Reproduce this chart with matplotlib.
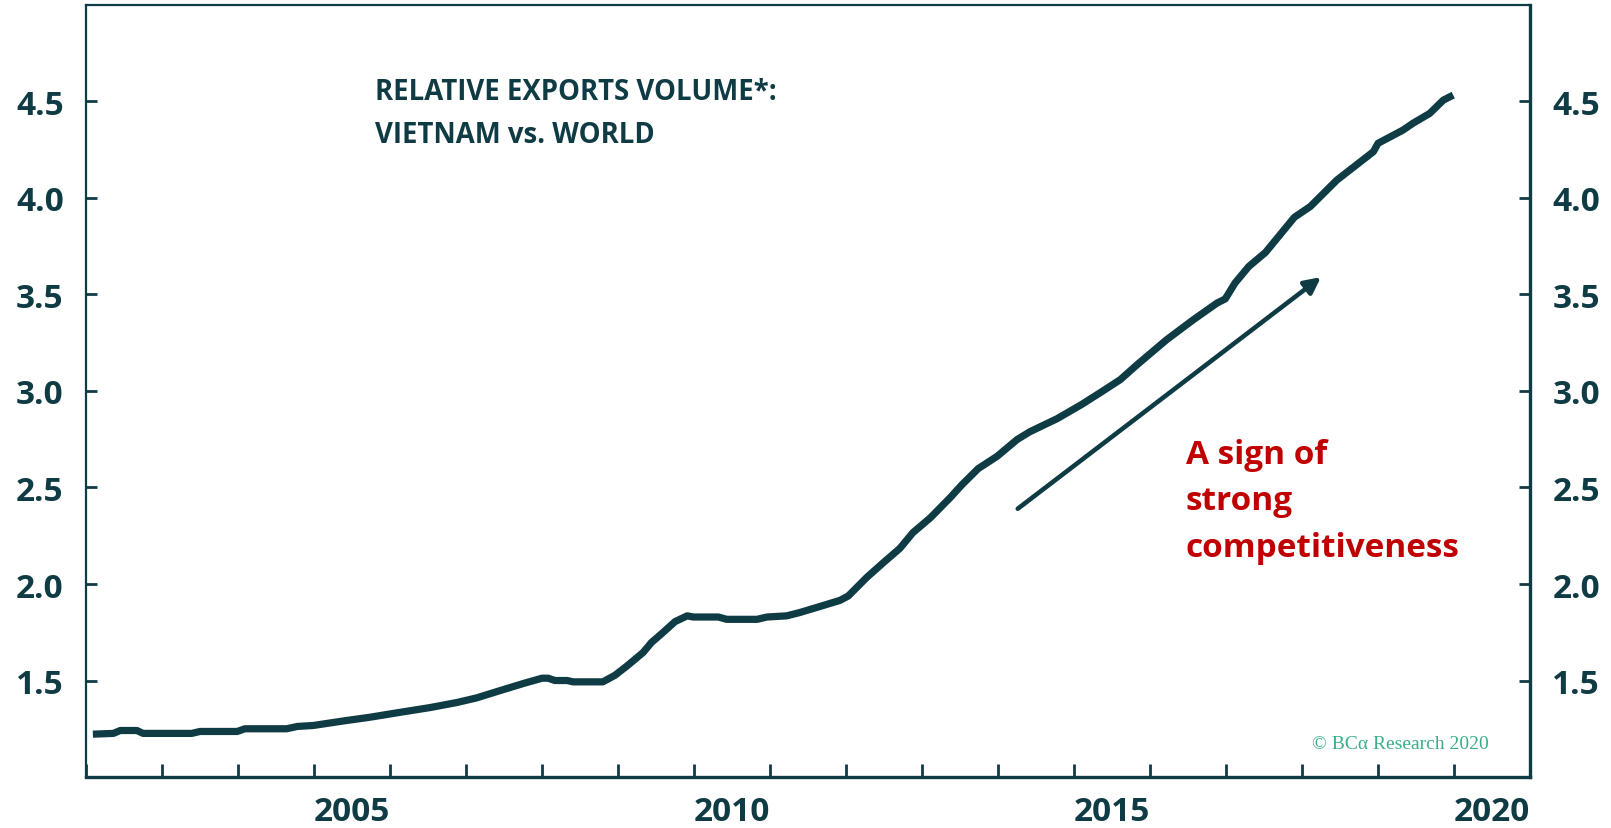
import matplotlib
matplotlib.use("Agg")
import matplotlib.pyplot as plt

# relative exports volume, Vietnam vs world
years = [2002.09, 2002.36, 2002.45, 2002.67, 2002.75, 2003.39, 2003.50, 2003.99,
         2004.09, 2004.64, 2004.78, 2004.99, 2005.43, 2005.56, 2005.74, 2006.13,
         2006.53, 2006.88, 2007.14, 2007.45, 2007.75, 2008.00, 2008.08, 2008.17,
         2008.33, 2008.41, 2008.80, 2008.96, 2009.12, 2009.33, 2009.44, 2009.59,
         2009.75, 2009.91, 2009.99, 2010.32, 2010.43, 2010.83, 2010.96, 2011.22,
         2011.39, 2011.61, 2011.92, 2012.03, 2012.27, 2012.49, 2012.71, 2012.88,
         2013.11, 2013.37, 2013.53, 2013.74, 2013.99, 2014.25, 2014.42, 2014.78,
         2015.10, 2015.36, 2015.61, 2015.83, 2016.22, 2016.57, 2016.88, 2016.99,
         2017.12, 2017.30, 2017.52, 2017.71, 2017.90, 2018.11, 2018.46, 2018.80,
         2018.94, 2019.00, 2019.33, 2019.46, 2019.68, 2019.86, 2019.99]
values = [1.222, 1.226, 1.241, 1.241, 1.226, 1.226, 1.236, 1.236,
          1.250, 1.250, 1.262, 1.267, 1.293, 1.300, 1.310, 1.335,
          1.360, 1.386, 1.410, 1.448, 1.484, 1.512, 1.512, 1.500,
          1.500, 1.493, 1.493, 1.527, 1.576, 1.645, 1.697, 1.748,
          1.805, 1.835, 1.829, 1.829, 1.817, 1.817, 1.829, 1.835,
          1.852, 1.878, 1.915, 1.938, 2.033, 2.110, 2.185, 2.266,
          2.343, 2.447, 2.516, 2.598, 2.662, 2.748, 2.789, 2.857,
          2.930, 2.995, 3.059, 3.136, 3.266, 3.369, 3.455, 3.477,
          3.560, 3.645, 3.718, 3.809, 3.900, 3.956, 4.093, 4.197,
          4.240, 4.283, 4.352, 4.387, 4.438, 4.507, 4.533]

y_ticks = [1.5, 2.0, 2.5, 3.0, 3.5, 4.0, 4.5]
year_labels = [2005, 2010, 2015, 2020]

arrow_start = (2014.26, 2.39)
arrow_end = (2018.25, 3.59)

dark = '#0f3b44'
red = '#c00000'
green = '#3aae84'

plt.rcParams['font.family'] = ['Open Sans', 'DejaVu Sans']

fig = plt.figure(figsize=(16.11, 8.29), dpi=100)
ax = fig.add_axes([0.0534, 0.0615, 0.8963, 0.9313])

ax.plot(years, values, color=dark, lw=5.2, solid_capstyle='butt', solid_joinstyle='round')

ax.set_xlim(2002, 2021)
ax.set_ylim(1.0, 5.0)

# year ticks on the boundaries, labels centred in the year
ax.set_xticks(range(2002, 2022))
ax.set_xticklabels([])
ax.set_xticks([y + 0.5 for y in year_labels], minor=True)
ax.set_xticklabels([str(y) for y in year_labels], minor=True)
ax.tick_params(axis='x', which='major', direction='in', length=9.5, width=2, color=dark)
ax.tick_params(axis='x', which='minor', length=0, pad=13, labelsize=24, labelcolor=dark)

ax.set_yticks(y_ticks)
ax.set_yticklabels(['%.1f' % v for v in y_ticks])
ax.tick_params(axis='y', direction='in', length=8, width=2, color=dark, pad=16,
               left=True, right=True, labelleft=True, labelright=True,
               labelsize=24, labelcolor=dark)
for lab in ax.get_xticklabels(minor=True):
    lab.set_fontweight('bold')
for t in ax.yaxis.get_major_ticks():
    t.label1.set_fontweight('bold')
    t.label2.set_fontweight('bold')

ax.spines['left'].set_linewidth(1.6)
ax.spines['top'].set_linewidth(1.6)
ax.spines['right'].set_linewidth(2.4)
ax.spines['bottom'].set_linewidth(2.4)
for s in ax.spines.values():
    s.set_color(dark)

# va='baseline' on multi-line text anchors the last line
ax.text((375 - 86) / 1444, (778 - 143) / 772, 'RELATIVE EXPORTS VOLUME*:\nVIETNAM vs. WORLD',
        transform=ax.transAxes, fontsize=19.8, fontweight='bold', color=dark,
        linespacing=1.65, va='baseline', ha='left')

ax.annotate('', xy=arrow_end, xytext=arrow_start,
            arrowprops=dict(arrowstyle='-|>', lw=3.3, color=dark, mutation_scale=24,
                            shrinkA=0, shrinkB=0))

ax.text((1186 - 86) / 1444, (778 - 557) / 772, 'A sign of\nstrong\ncompetitiveness',
        transform=ax.transAxes, fontsize=24, fontweight='bold', color=red,
        linespacing=1.55, va='baseline', ha='left')

ax.text(0.9716, 0.044, '\u00a9 BC\u03b1 Research 2020', transform=ax.transAxes,
        fontsize=14, color=green, family=['Liberation Serif', 'DejaVu Serif'],
        ha='right', va='center')

fig.savefig('out.png', dpi=100)
